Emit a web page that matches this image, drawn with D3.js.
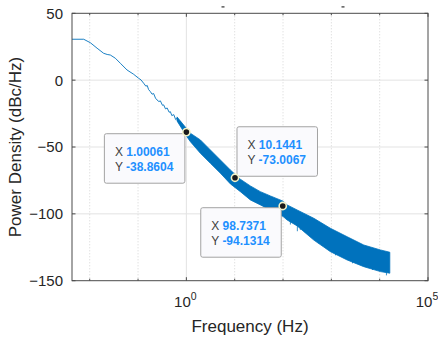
<!DOCTYPE html>
<html>
<head>
<meta charset="utf-8">
<script src="https://cdn.jsdelivr.net/npm/d3@7/dist/d3.min.js"></script>
<style>
  html, body { margin: 0; padding: 0; background: #fff; }
  svg { display: block; font-family: "Liberation Sans", Arial, sans-serif; }
  .tick-label { font-size: 15px; fill: #262626; }
  .axis-label { font-size: 17px; fill: #262626; }
  .tip-key { font-size: 12px; fill: #404040; }
  .tip-val { font-size: 12px; fill: #1e90ff; font-weight: bold; }
</style>
</head>
<body>
<div id="chart"></div>
<script>
// low-frequency trace (thin line)
const lineFreq = [0.0043, 0.0075, 0.0103, 0.0142, 0.0194, 0.023, 0.0267, 0.0339, 0.0431, 0.0592,
  0.0811, 0.1028, 0.115, 0.1306, 0.145, 0.155, 0.165, 0.18, 0.195, 0.21, 0.23, 0.247, 0.27, 0.29,
  0.32, 0.339, 0.37, 0.40, 0.44, 0.467, 0.50, 0.55, 0.60, 0.641, 0.70, 0.76, 0.82, 0.879, 0.94, 1.0];
const linePower = [30.6, 30.6, 28.0, 23.9, 20.1, 19.2, 18.8, 16.4, 12.6, 7.6,
  4.4, 1.4, 0.2, -2.3, -4.5, -4.0, -7.0, -8.6, -10.5, -10.0, -13.5, -14.8, -16.0, -15.5,
  -18.8, -18.5, -21.5, -20.8, -24.0, -23.6, -26.5, -25.8, -29.5, -28.5, -31.5, -31.0, -34.5, -34.8, -36.5, -38.9];

// dense noisy part: envelope of the band
const bandFreq = [0.641, 1.0, 1.21, 1.95, 3.14, 5.06, 8.15, 13.1, 21.1, 34.0, 54.8, 100.5, 121.6,
  196, 433, 957, 2123, 4690, 10400, 16200];
const bandUpper = [-27.5, -36.0, -39.7, -44.7, -52.2, -59.7, -67.2, -74.1, -79.1, -83.4, -86.6, -90.5, -93.3,
  -97.1, -103.3, -110.8, -117.1, -123.3, -127.0, -128.7];
const bandLower = [-30.5, -41.7, -46.0, -54.7, -62.2, -69.6, -77.6, -83.4, -89.6, -93.3, -97.1, -102.0, -104.6,
  -109.0, -119.6, -128.3, -134.5, -139.5, -143.2, -144.4];

// downward spikes below the band
const spikeFreq = [142, 198, 228, 290, 540, 1220, 2740, 7100, 13800];
const spikePower = [-108, -113, -112, -114, -122, -131, -137, -142, -146];

// data tips
const tipFreq = [1.00061, 10.1441, 98.7371];
const tipPower = [-38.8604, -73.0067, -94.1314];

const yTicks = [50, 0, -50, -100, -150];
const xMajor = [1, 1e5];
const xMinor = [0.01, 0.1, 10, 100, 1000, 10000];

const width = 438, height = 338;
const margin = { left: 72, top: 13.3, right: 428, bottom: 280.7 };
const blue = '#0072BD';

const x = d3.scaleLog().domain([0.0043, 1e5]).range([margin.left, margin.right]);
const y = d3.scaleLinear().domain([-150, 50]).range([margin.bottom, margin.top]);

const svg = d3.select('#chart').append('svg')
  .attr('width', width)
  .attr('height', height);

svg.append('defs').append('clipPath').attr('id', 'plot')
  .append('rect')
  .attr('x', margin.left).attr('y', margin.top)
  .attr('width', margin.right - margin.left).attr('height', margin.bottom - margin.top);

// grid
const grid = svg.append('g');
grid.selectAll('line.hgrid')
  .data(yTicks.slice(1, -1))
  .join('line')
  .attr('x1', margin.left).attr('x2', margin.right)
  .attr('y1', d => y(d)).attr('y2', d => y(d))
  .attr('stroke', '#e3e3e3');
grid.selectAll('line.vmajor')
  .data([1])
  .join('line')
  .attr('x1', d => x(d)).attr('x2', d => x(d))
  .attr('y1', margin.top).attr('y2', margin.bottom)
  .attr('stroke', '#e3e3e3');
grid.selectAll('line.vminor')
  .data(xMinor)
  .join('line')
  .attr('class', 'vminor')
  .attr('x1', d => x(d)).attr('x2', d => x(d))
  .attr('y1', margin.top).attr('y2', margin.bottom)
  .attr('stroke', '#d4d4d4')
  .attr('stroke-dasharray', '1,2');

// data
const plot = svg.append('g').attr('clip-path', 'url(#plot)');

const lineData = lineFreq.map((f, i) => [f, linePower[i]]);
plot.append('path')
  .datum(lineData)
  .attr('fill', 'none')
  .attr('stroke', blue)
  .attr('stroke-width', 0.9)
  .attr('d', d3.line().x(d => x(d[0])).y(d => y(d[1])));

const bandData = bandFreq.map((f, i) => ({ f, hi: bandUpper[i], lo: bandLower[i] }));
plot.append('path')
  .datum(bandData)
  .attr('fill', blue)
  .attr('stroke', blue)
  .attr('stroke-width', 0.8)
  .attr('d', d3.area().x(d => x(d.f)).y0(d => y(d.lo)).y1(d => y(d.hi)));

const lowerAt = d3.scaleLog().domain(bandFreq).range(bandLower);
plot.selectAll('line.spike')
  .data(spikeFreq)
  .join('line')
  .attr('x1', d => x(d)).attr('x2', d => x(d))
  .attr('y1', d => y(lowerAt(d)) - 2)
  .attr('y2', (d, i) => y(spikePower[i]))
  .attr('stroke', blue)
  .attr('stroke-width', 0.8);

// axes box
const axis = svg.append('g').attr('stroke', '#4a4a4a').attr('fill', 'none');
axis.append('rect')
  .attr('x', margin.left).attr('y', margin.top)
  .attr('width', margin.right - margin.left).attr('height', margin.bottom - margin.top)
  .attr('stroke-width', 1);

axis.selectAll('path.ytick')
  .data(yTicks)
  .join('path')
  .attr('d', d => `M${margin.left},${y(d)}h3.5M${margin.right},${y(d)}h-3.5`);
axis.selectAll('path.xmajor')
  .data(xMajor)
  .join('path')
  .attr('d', d => `M${x(d)},${margin.bottom}v-3.5M${x(d)},${margin.top}v3.5`);
axis.selectAll('path.xminor')
  .data(xMinor)
  .join('path')
  .attr('d', d => `M${x(d)},${margin.bottom}v-2M${x(d)},${margin.top}v2`);

// stray marks above the axes
svg.selectAll('rect.stray')
  .data([223, 343])
  .join('rect')
  .attr('x', d => d - 1.5).attr('y', 6.3)
  .attr('width', 3).attr('height', 1.2)
  .attr('fill', '#333');

// tick labels
svg.selectAll('text.ylab')
  .data(yTicks)
  .join('text')
  .attr('class', 'tick-label')
  .attr('x', margin.left - 9)
  .attr('y', d => y(d))
  .attr('dy', '0.36em')
  .attr('text-anchor', 'end')
  .text(d => d < 0 ? '\u2212' + Math.abs(d) : d);

svg.selectAll('text.xlab')
  .data(xMajor)
  .join('text')
  .attr('class', 'tick-label')
  .attr('x', d => x(d) - 1)
  .attr('y', margin.bottom + 26)
  .attr('text-anchor', 'middle')
  .each(function(d) {
    const t = d3.select(this);
    t.append('tspan').text('10');
    t.append('tspan').attr('dy', -7).style('font-size', '10.5px').text(Math.round(Math.log10(d)));
  });

svg.append('text')
  .attr('class', 'axis-label')
  .attr('x', (margin.left + margin.right) / 2)
  .attr('y', 332)
  .attr('text-anchor', 'middle')
  .text('Frequency (Hz)');

svg.append('text')
  .attr('class', 'axis-label')
  .attr('transform', `translate(21,${(margin.top + margin.bottom) / 2}) rotate(-90)`)
  .attr('text-anchor', 'middle')
  .text('Power Density (dBc/Hz)');

// data tips
const tipOffset = [[-82, 1.6], [2, -51], [-82, 1.7]];
const tips = svg.append('g');
tipFreq.forEach((f, i) => {
  const px = x(f), py = y(tipPower[i]);
  const bx = px + tipOffset[i][0], by = py + tipOffset[i][1];
  tips.append('rect')
    .attr('x', bx).attr('y', by)
    .attr('width', 80.5).attr('height', 49.5)
    .attr('rx', 2)
    .attr('fill', '#fafafd')
    .attr('stroke', '#a3a3a3')
    .attr('stroke-width', 1);
  [['X', f], ['Y', tipPower[i]]].forEach((row, j) => {
    const t = tips.append('text').attr('x', bx + 10.5).attr('y', by + 22 + j * 15);
    t.append('tspan').attr('class', 'tip-key').text(row[0] + ' ');
    t.append('tspan').attr('class', 'tip-val').text(String(row[1]));
  });
  tips.append('circle')
    .attr('cx', px).attr('cy', py)
    .attr('r', 3.6)
    .attr('fill', '#1a1a1a')
    .attr('stroke', '#f3f3c8')
    .attr('stroke-width', 1.6);
});
</script>
</body>
</html>
